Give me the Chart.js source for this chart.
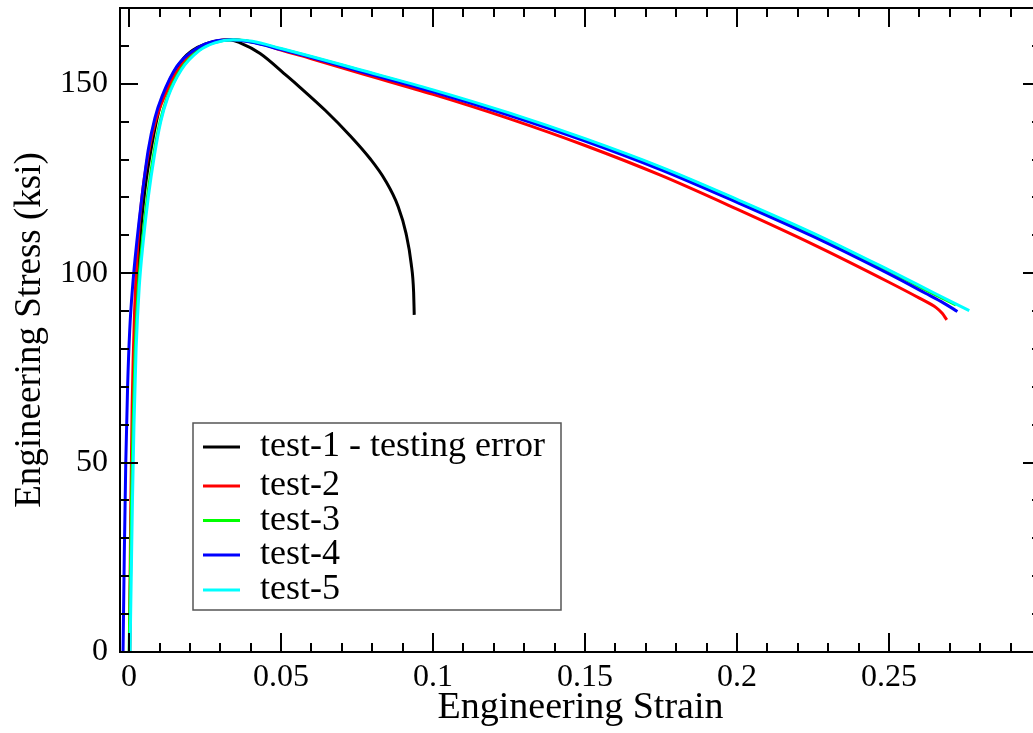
<!DOCTYPE html>
<html><head><meta charset="utf-8">
<script src="https://cdn.jsdelivr.net/npm/chart.js@4.4.1/dist/chart.umd.min.js"></script>
<style>html,body{margin:0;padding:0;overflow:hidden;background:#fff}
#wrap{width:1045px;height:733px;position:relative}</style></head>
<body><div id="wrap"><canvas id="c"></canvas></div>
<script>
const seriesNames = ["test-1 - testing error", "test-2", "test-3", "test-4", "test-5"];
const seriesColors = ["#000000", "#ff0000", "#00ff00", "#0000ff", "#00ffff"];

const test1Strain = [0.0002,0.0006,0.0012,0.0022,0.0035,0.0052,0.0075,0.0105,0.014,0.018,0.0225,0.028,0.033,0.0365,0.0431,0.052,0.0563,0.0645,0.0727,0.0793,0.0842,0.0885,0.0911,0.0928,0.0936,0.0938];
const test1Stress = [0,30,60,88,108,122,134,145,152,156.8,159.6,161.2,161.6,160.8,158.0,152.0,149.0,143.0,136.3,130.2,124.6,117.6,110.5,102.5,95.0,89.0];

const test2Strain = [0.0001,0.0005,0.001,0.0018,0.0028,0.0042,0.0062,0.0088,0.0118,0.0155,0.0195,0.024,0.029,0.0335,0.039,0.045,0.05,0.06,0.075,0.1,0.125,0.15,0.175,0.2,0.225,0.25,0.26,0.2655,0.2675,0.269];
const test2Stress = [0,35,65,90,107,120,131,140.5,147,153,157,159.8,161.3,161.7,161.2,160.2,158.9,156.6,153.0,147.2,140.8,133.7,125.8,116.9,107.6,97.6,93.4,90.9,89.4,87.7];

const test3Strain = [0.0,0.0004,0.0008,0.0013,0.002,0.003,0.0043,0.006,0.008,0.0102,0.0125,0.017,0.023,0.028,0.034,0.04,0.05,0.06,0.075,0.1,0.125,0.15,0.175,0.2,0.225,0.25,0.262,0.272];
const test3Stress = [0,20,40,60,80,96,108,120,131,140,146.3,153.8,158.9,160.9,161.6,161.1,159.2,157.1,153.8,148.2,142.1,135.3,127.8,119.3,110.4,100.6,95.6,91.6];

const test4Strain = [-0.002,-0.0016,-0.0011,-0.0005,0.0002,0.0012,0.0025,0.0042,0.0063,0.0085,0.0108,0.0157,0.0223,0.0277,0.033,0.04,0.05,0.06,0.075,0.1,0.125,0.15,0.175,0.2,0.225,0.25,0.262,0.268,0.2725];
const test4Stress = [0,25,50,70,85,97,108,120,132.6,141,146.6,154.6,159.4,161.2,161.6,161.0,159.0,156.9,153.5,147.9,141.7,134.9,127.3,118.7,109.7,99.8,94.7,92.1,89.9];

const test5Strain = [0.0003,0.0007,0.0011,0.0016,0.0023,0.0033,0.0046,0.0063,0.0083,0.0104,0.0127,0.0172,0.0232,0.0282,0.0342,0.0405,0.05,0.06,0.075,0.1,0.125,0.15,0.175,0.2,0.225,0.25,0.265,0.2764];
const test5Stress = [0,20,40,60,80,96,108,120,131,140,146.3,153.7,158.8,160.8,161.6,161.2,159.3,157.2,153.9,148.4,142.3,135.5,128.0,119.5,110.6,100.8,94.7,90.1];

const xTickValues = [0, 0.05, 0.1, 0.15, 0.2, 0.25];
const xTickLabels = ["0", "0.05", "0.1", "0.15", "0.2", "0.25"];
const yTickValues = [0, 50, 100, 150];
const yTickLabels = ["0", "50", "100", "150"];

const strains = [test1Strain, test2Strain, test3Strain, test4Strain, test5Strain];
const stresses = [test1Stress, test2Stress, test3Stress, test4Stress, test5Stress];

const FONT = "'Liberation Serif', 'Times New Roman', serif";
Chart.defaults.font.family = FONT;
Chart.defaults.color = '#000';

const datasets = seriesNames.map((name, i) => ({
  label: name,
  data: strains[i].map((s, j) => ({x: s, y: stresses[i][j]})),
  borderColor: seriesColors[i],
  backgroundColor: seriesColors[i],
  borderWidth: 3,
  pointRadius: 0,
  fill: false,
  cubicInterpolationMode: 'monotone',
  order: seriesNames.length - 1 - i
}));

const framePlugin = {
  id: 'frame',
  afterDatasetsDraw(chart) {
    const {ctx, chartArea: a, scales} = chart;
    const x = scales.x, y = scales.y;
    ctx.save();
    ctx.strokeStyle = '#000';
    ctx.lineWidth = 2;
    ctx.strokeRect(a.left, a.top, a.right - a.left, a.bottom - a.top);
    ctx.beginPath();
    for (let i = 0; i <= 30; i++) {
      const px = Math.round(x.getPixelForValue(i * 0.01));
      const len = (i % 5 === 0) ? 19 : 9;
      ctx.moveTo(px, a.bottom); ctx.lineTo(px, a.bottom - len);
      ctx.moveTo(px, a.top); ctx.lineTo(px, a.top + len);
    }
    for (let i = 0; i <= 17; i++) {
      const py = Math.round(y.getPixelForValue(i * 10));
      const len = (i % 5 === 0) ? 18 : 9;
      ctx.moveTo(a.left, py); ctx.lineTo(a.left + len, py);
      ctx.moveTo(a.right, py); ctx.lineTo(a.right - len, py);
    }
    ctx.stroke();

    // legend
    const bx = 193, by = 423, bw = 368, bh = 187;
    ctx.fillStyle = '#fff';
    ctx.fillRect(bx, by, bw, bh);
    ctx.strokeStyle = '#555';
    ctx.lineWidth = 1.5;
    ctx.strokeRect(bx, by, bw, bh);
    const rowsY = [447, 486, 520.5, 555, 590];
    ctx.font = "36px " + FONT;
    ctx.textBaseline = 'middle';
    ctx.textAlign = 'left';
    chart.data.datasets.forEach((ds, i) => {
      const ry = rowsY[i];
      ctx.strokeStyle = ds.borderColor;
      ctx.lineWidth = 3;
      ctx.beginPath();
      ctx.moveTo(203, ry); ctx.lineTo(240, ry);
      ctx.stroke();
      ctx.fillStyle = '#000';
      ctx.fillText(ds.label, 260, ry);
    });
    ctx.restore();
  }
};

new Chart(document.getElementById('c'), {
  type: 'line',
  data: {datasets},
  options: {
    animation: false,
    responsive: true,
    maintainAspectRatio: false,
    devicePixelRatio: 1,
    layout: {padding: {top: 8, right: 4, left: 0, bottom: 0}},
    plugins: {legend: {display: false}, tooltip: {enabled: false}},
    scales: {
      x: {
        type: 'linear', min: -0.003, max: 0.3,
        grid: {display: false, drawTicks: false},
        border: {display: false},
        afterBuildTicks: s => { s.ticks = xTickValues.map(v => ({value: v})); },
        afterFit: s => { s.height = 81; s.paddingLeft = 0; s.paddingRight = 0; },
        ticks: {
          autoSkip: false, maxRotation: 0, padding: 6,
          font: {size: 32, family: FONT}, color: '#000',
          callback: v => { const k = xTickValues.indexOf(v); return k >= 0 ? xTickLabels[k] : ''; }
        },
        title: {display: true, text: 'Engineering Strain', color: '#000',
          font: {size: 38, family: FONT}, padding: {top: 0, bottom: 2}}
      },
      y: {
        type: 'linear', min: 0, max: 170,
        grid: {display: false, drawTicks: false},
        border: {display: false},
        afterBuildTicks: s => { s.ticks = yTickValues.map(v => ({value: v})); },
        afterFit: s => { s.width = 120; s.paddingTop = 0; s.paddingBottom = 0; },
        ticks: {
          autoSkip: false, padding: 12,
          font: {size: 32, family: FONT}, color: '#000',
          callback: v => { const k = yTickValues.indexOf(v); return k >= 0 ? yTickLabels[k] : ''; }
        },
        title: {display: true, text: 'Engineering Stress (ksi)', color: '#000',
          font: {size: 37, family: FONT}, padding: {top: 8, bottom: 0}}
      }
    }
  },
  plugins: [framePlugin]
});
</script>
</body></html>
